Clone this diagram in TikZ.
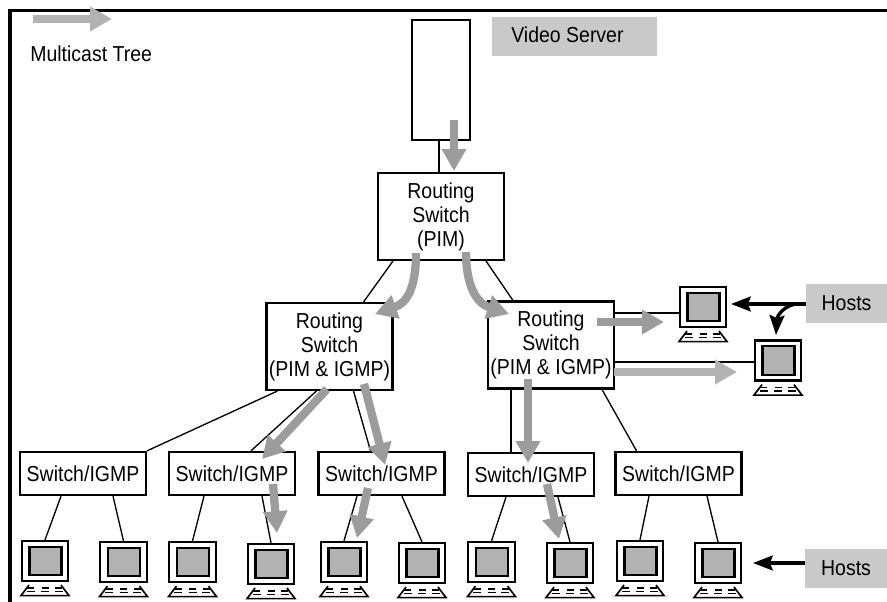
\documentclass[tikz,border=0pt]{standalone}
\usepackage{fontspec}
\setmainfont[FakeStretch=0.9]{Liberation Sans}
\usetikzlibrary{arrows.meta,calc}
\definecolor{flowdark}{gray}{0.61}
\definecolor{flowlight}{gray}{0.70}
\definecolor{labelgray}{gray}{0.79}
\tikzset{
    boxtext/.style={font=\fontsize{15.4}{17}\selectfont,align=center,inner sep=0pt},
    netbox/.style={boxtext,draw,line width=1.55pt},
    routerbox/.style={netbox,minimum width=3.15cm,minimum height=2.17cm},
    switchbox/.style={netbox,minimum width=3.15cm,minimum height=1.08cm},
    hostbox/.style={draw,line width=1.55pt,minimum width=1.16cm,minimum height=1cm,inner sep=0pt},
    screenbox/.style={draw,fill=flowlight,line width=1.55pt,minimum width=0.8cm,minimum height=0.72cm,inner sep=0pt},
    graylabel/.style={boxtext,fill=labelgray,minimum width=2.03cm,minimum height=0.98cm},
    thinlink/.style={line width=0.95pt},
    thicklink/.style={line width=1.55pt},
    flowarrow/.style={line width=5.9pt,-{Triangle[length=15.5pt,width=16.5pt]}},
    hostarrow/.style={line width=2.4pt,-{Stealth[length=14pt,width=10.5pt,inset=2pt]}}
}
\begin{document}
\begin{tikzpicture}[x=0.025cm,y=-0.025cm]
    \useasboundingbox (0,0) rectangle (887,602);
    \draw[line width=2.4pt] (10,602)--(10,10.5)--(887,10.5);

    \node[draw,line width=1.55pt,minimum width=1.45cm,minimum height=3cm,inner sep=0pt](server)at(441,80){};
    \node[boxtext,fill=labelgray,minimum width=4.12cm,minimum height=0.98cm](serverlabel)at(574.5,36.5){};
    \node[boxtext,anchor=west](servertext)at(511,35){Video Server};
    \node[boxtext,anchor=west](treelabel)at(30,54){Multicast Tree};

    \node[routerbox](rs0)at(441,216.5){Routing\\Switch\\(PIM)};
    \node[routerbox](rs1)at(329.5,346.5){Routing\\Switch\\(PIM \& IGMP)};
    \node[routerbox](rs2)at(551,345){Routing\\Switch\\(PIM \& IGMP)};

    \foreach \name/\x/\y in {sw1/83/473.5,sw2/232/473.5,sw3/381.5/473.5,sw4/531/474.5,sw5/678.5/473.5}
        \node[switchbox](\name)at(\x,\y){Switch/IGMP};

    \foreach \name/\x/\y in {pc1/45/561,pc2/123.5/562,pc3/192.5/562,pc4/271/564,pc5/344/562,
        pc6/422/563,pc7/491.5/562,pc8/570/563,pc9/640/561,pc10/718/563,pc11/703/307,pc12/778/360.5}{
        \node[hostbox](\name)at(\x,\y){};
        \node[screenbox](\name screen)at(\x+0.5,\y){};
        \begin{scope}[shift={(\name.south)}]
            \draw[line width=1.2pt](-16,3)--(-24,13.5)--(24,13.5)--(16,3);
            \foreach \keyx in {-14.5,0,13.5}{
                \draw[line width=1.2pt](\keyx-3.5,6)--(\keyx+3.5,6);
                \draw[line width=1.2pt](\keyx-4,9.5)--(\keyx+4,9.5);
            }
        \end{scope}
    }

    \node[graylabel](hoststop)at(846.5,303.5){Hosts};
    \node[graylabel](hostsbottom)at(846,568.5){Hosts};

    \draw[thicklink](server.south-|439,0)--(rs0.north-|439,0);
    \draw[thinlink]($(rs0.south)+(-48,0)$)--($(rs1.north)+(34,0)$);
    \draw[thinlink]($(rs0.south)+(45,0)$)--($(rs2.north)+(-38,0)$);
    \draw[thinlink]($(rs1.south)+(-52,0)$)--(sw1.north east);
    \draw[thinlink]($(rs1.south)+(-13,0)$)--($(sw2.north)+(19,0)$);
    \draw[thinlink]($(rs1.south)+(24,0)$)--($(sw3.north)+(-11,0)$);
    \draw[thicklink]($(rs2.south)+(-40,0)$)--($(sw4.north)+(-20,0)$);
    \draw[thinlink]($(rs2.south)+(51,0)$)--($(sw5.north)+(-42,0)$);
    \coordinate(tapa)at($(pc11.west)+(0,6)$);
    \coordinate(tapb)at($(pc12.west)+(0,1.5)$);
    \draw[thicklink](tapa)--(tapa-|rs2.east);
    \draw[thicklink](tapb)--(tapb-|rs2.east);

    \foreach \from/\dx/\to in {sw1/-22/pc1,sw1/30/pc2,sw2/-28/pc3,sw2/30/pc4,sw3/-24.5/pc5,
        sw3/20.5/pc6,sw4/-25/pc7,sw4/27/pc8,sw5/-29.5/pc9,sw5/28.5/pc10}
        \draw[thinlink]($(\from.south)+(\dx,0)$)--(\to.north);

    \foreach \name/\sx/\sy/\tx/\ty/\c in {legend/33/19/112/19/flowlight,fa/454/120/454/171/flowdark,
        fb/327/389/262/459/flowdark,fc/364/384/385/465/flowdark,fd/528/379/528/463/flowdark,
        fe/597/322/664/322/flowdark,ff/614/372/737/372/flowlight,fg/273/484/277/533/flowdark,
        fh/368/488/357/538/flowdark,fi/547/484/559/539/flowdark}{
        \coordinate(\name start)at(\sx,\sy);
        \coordinate(\name tip)at(\tx,\ty);
        \draw[flowarrow,\c](\name start)--(\name tip);
    }
    \coordinate(bendlstart)at(416,253);
    \coordinate(bendltip)at(375,314);
    \coordinate(bendrstart)at(466,252);
    \coordinate(bendrtip)at(509,314);
    \draw[flowarrow,flowdark](bendlstart)..controls(416,288)and(407,303)..(bendltip);
    \draw[flowarrow,flowdark](bendrstart)..controls(466,285)and(476,303)..(bendrtip);

    \coordinate(hosttipa)at(731,304);
    \coordinate(hosttipb)at(776,335);
    \coordinate(hostbend)at(798,304);
    \coordinate(hosttipc)at(753,563);
    \draw[hostarrow](hoststop.west|-hosttipa)--(hosttipa);
    \draw[hostarrow](hostbend)..controls(785,304)and(777,316)..(hosttipb);
    \draw[hostarrow](hostsbottom.west|-hosttipc)--(hosttipc);
\end{tikzpicture}
\end{document}
